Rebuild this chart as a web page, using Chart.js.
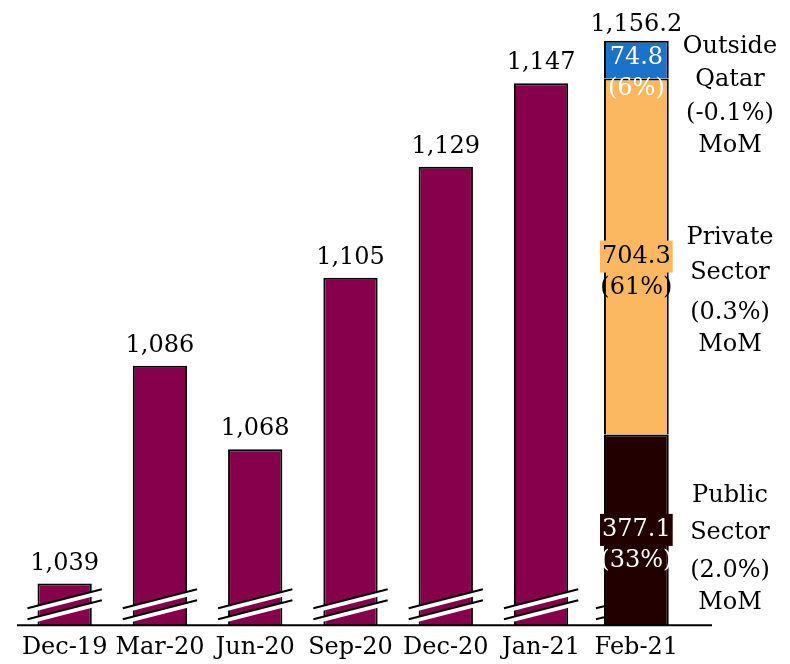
<!DOCTYPE html>
<html>
<head>
<meta charset="utf-8">
<script src="https://cdn.jsdelivr.net/npm/chart.js@4.4.1/dist/chart.umd.min.js"></script>
<style>
  body { margin: 0; background: #fff; }
</style>
</head>
<body>
<canvas id="depositsChart" width="790" height="664"></canvas>
<script>
// data
const months = ['Dec-19', 'Mar-20', 'Jun-20', 'Sep-20', 'Dec-20', 'Jan-21', 'Feb-21'];
const totals = [1039, 1086, 1068, 1105, 1129, 1147, null];
const publicSector = [null, null, null, null, null, null, 377.1];
const privateSector = [null, null, null, null, null, null, 704.3];
const outsideQatar = [null, null, null, null, null, null, 74.8];
const momNotes = [
    ['Public', 'Sector', '(2.0%)', 'MoM'],
    ['Private', 'Sector', '(0.3%)', 'MoM'],
    ['Outside', 'Qatar', '(-0.1%)', 'MoM']
];

const FONT = "'DejaVu Serif', serif";
const yMin = 1030, yMax = 1165;
const last = months.length - 1;
const febTotal = publicSector[last] + privateSector[last] + outsideQatar[last];
// second axis so the Feb stack ends exactly at its total on the broken axis
const y2Max = febTotal * (yMax - yMin) / (febTotal - yMin);

function fmt(v, dec) {
    return v.toLocaleString('en-US', { minimumFractionDigits: dec, maximumFractionDigits: dec });
}

const labelPlugin = {
    id: 'labelPlugin',
    afterDatasetsDraw(chart) {
        const ctx = chart.ctx;
        const area = chart.chartArea;
        ctx.save();

        // baseline
        ctx.strokeStyle = '#000';
        ctx.lineWidth = 2;
        ctx.beginPath();
        ctx.moveTo(17, area.bottom);
        ctx.lineTo(712, area.bottom);
        ctx.stroke();

        // axis break marks
        const meta0 = chart.getDatasetMeta(0);
        meta0.data.forEach((bar, i) => {
            if (totals[i] == null) return;
            const half = bar.width / 2;
            const x1 = bar.x - half - 10, x2 = bar.x + half + 10;
            [0, 11].forEach(off => {
                const yl = area.bottom - 17 + off, yr = yl - 19;
                ctx.fillStyle = '#fff';
                ctx.beginPath();
                ctx.moveTo(x1, yl); ctx.lineTo(x2, yr);
                ctx.lineTo(x2, yr + 5); ctx.lineTo(x1, yl + 5);
                ctx.closePath();
                ctx.fill();
                ctx.strokeStyle = '#000';
                ctx.lineWidth = 2;
                ctx.beginPath();
                ctx.moveTo(x1, yl); ctx.lineTo(x2, yr);
                ctx.stroke();
            });
            ctx.fillStyle = '#000';
            ctx.font = '24px ' + FONT;
            ctx.textAlign = 'center';
            ctx.textBaseline = 'alphabetic';
            ctx.fillText(fmt(totals[i], 0), bar.x, bar.y - 14);
        });

        // Feb stack
        const segs = [publicSector, privateSector, outsideQatar];
        const febBar = chart.getDatasetMeta(1).data[last];
        const fx = febBar.x;
        // small break stubs left of the Feb bar
        ctx.strokeStyle = '#000';
        ctx.lineWidth = 2;
        [0, 11].forEach(off => {
            const yl = area.bottom - 17 + off;
            ctx.beginPath();
            ctx.moveTo(fx - febBar.width / 2 - 8, yl);
            ctx.lineTo(fx - febBar.width / 2, yl - 2);
            ctx.stroke();
        });

        const boxCols = ['#230000', '#fbb860', null];
        const txtCols = ['#fff', '#000', '#fff'];
        const noteTops = [496, 238, 47];
        const noteGaps = [[0, 37, 75, 107], [0, 35, 75, 107], [0, 33, 67, 99]];
        segs.forEach((arr, k) => {
            const el = chart.getDatasetMeta(k + 1).data[last];
            const cy = (el.y + el.base) / 2;
            const vy = k === 2 ? el.y + 17 : cy;
            const valTxt = fmt(arr[last], 1);
            const pctTxt = '(' + Math.round(arr[last] / febTotal * 100) + '%)';
            ctx.font = '24px ' + FONT;
            ctx.textAlign = 'center';
            ctx.textBaseline = 'middle';
            if (boxCols[k]) {
                const w = ctx.measureText(valTxt).width + 4;
                ctx.fillStyle = boxCols[k];
                ctx.fillRect(fx - w / 2, vy - 16, w, 32);
            }
            ctx.fillStyle = txtCols[k];
            ctx.fillText(valTxt, fx, vy);
            ctx.fillText(pctTxt, fx, vy + 31);

            // side note
            ctx.fillStyle = '#000';
            momNotes[k].forEach((line, j) => {
                ctx.fillText(line, 730, noteTops[k] + noteGaps[k][j]);
            });
        });

        // Feb total
        const topEl = chart.getDatasetMeta(3).data[last];
        ctx.fillStyle = '#000';
        ctx.textBaseline = 'alphabetic';
        ctx.fillText(fmt(febTotal, 1), fx, topEl.y - 10);

        ctx.restore();
    }
};

new Chart(document.getElementById('depositsChart'), {
    type: 'bar',
    data: {
        labels: months,
        datasets: [
            {
                label: 'Total', data: totals, yAxisID: 'y',
                backgroundColor: '#87004b', borderColor: '#000', borderWidth: 2,
                barPercentage: 0.57, categoryPercentage: 1, grouped: false
            },
            {
                label: 'Public Sector', data: publicSector, yAxisID: 'y2', stack: 'feb',
                backgroundColor: '#230000', borderColor: '#000', borderWidth: 2,
                barPercentage: 0.68, categoryPercentage: 1, grouped: false
            },
            {
                label: 'Private Sector', data: privateSector, yAxisID: 'y2', stack: 'feb',
                backgroundColor: '#fbb860', borderColor: '#000', borderWidth: 2,
                barPercentage: 0.68, categoryPercentage: 1, grouped: false
            },
            {
                label: 'Outside Qatar', data: outsideQatar, yAxisID: 'y2', stack: 'feb',
                backgroundColor: '#1b73c9', borderColor: '#000', borderWidth: 2,
                barPercentage: 0.68, categoryPercentage: 1, grouped: false
            }
        ]
    },
    options: {
        responsive: false,
        animation: false,
        layout: { padding: { left: 17, right: 106, top: 0, bottom: -6 } },
        plugins: { legend: { display: false }, tooltip: { enabled: false } },
        scales: {
            x: {
                grid: { display: false, drawTicks: false },
                border: { display: false },
                ticks: { color: '#000', font: { family: FONT, size: 24 }, padding: 8, maxRotation: 0 }
            },
            y: { display: false, min: yMin, max: yMax },
            y2: { display: false, stacked: true, min: 0, max: y2Max }
        }
    },
    plugins: [labelPlugin]
});
</script>
</body>
</html>
